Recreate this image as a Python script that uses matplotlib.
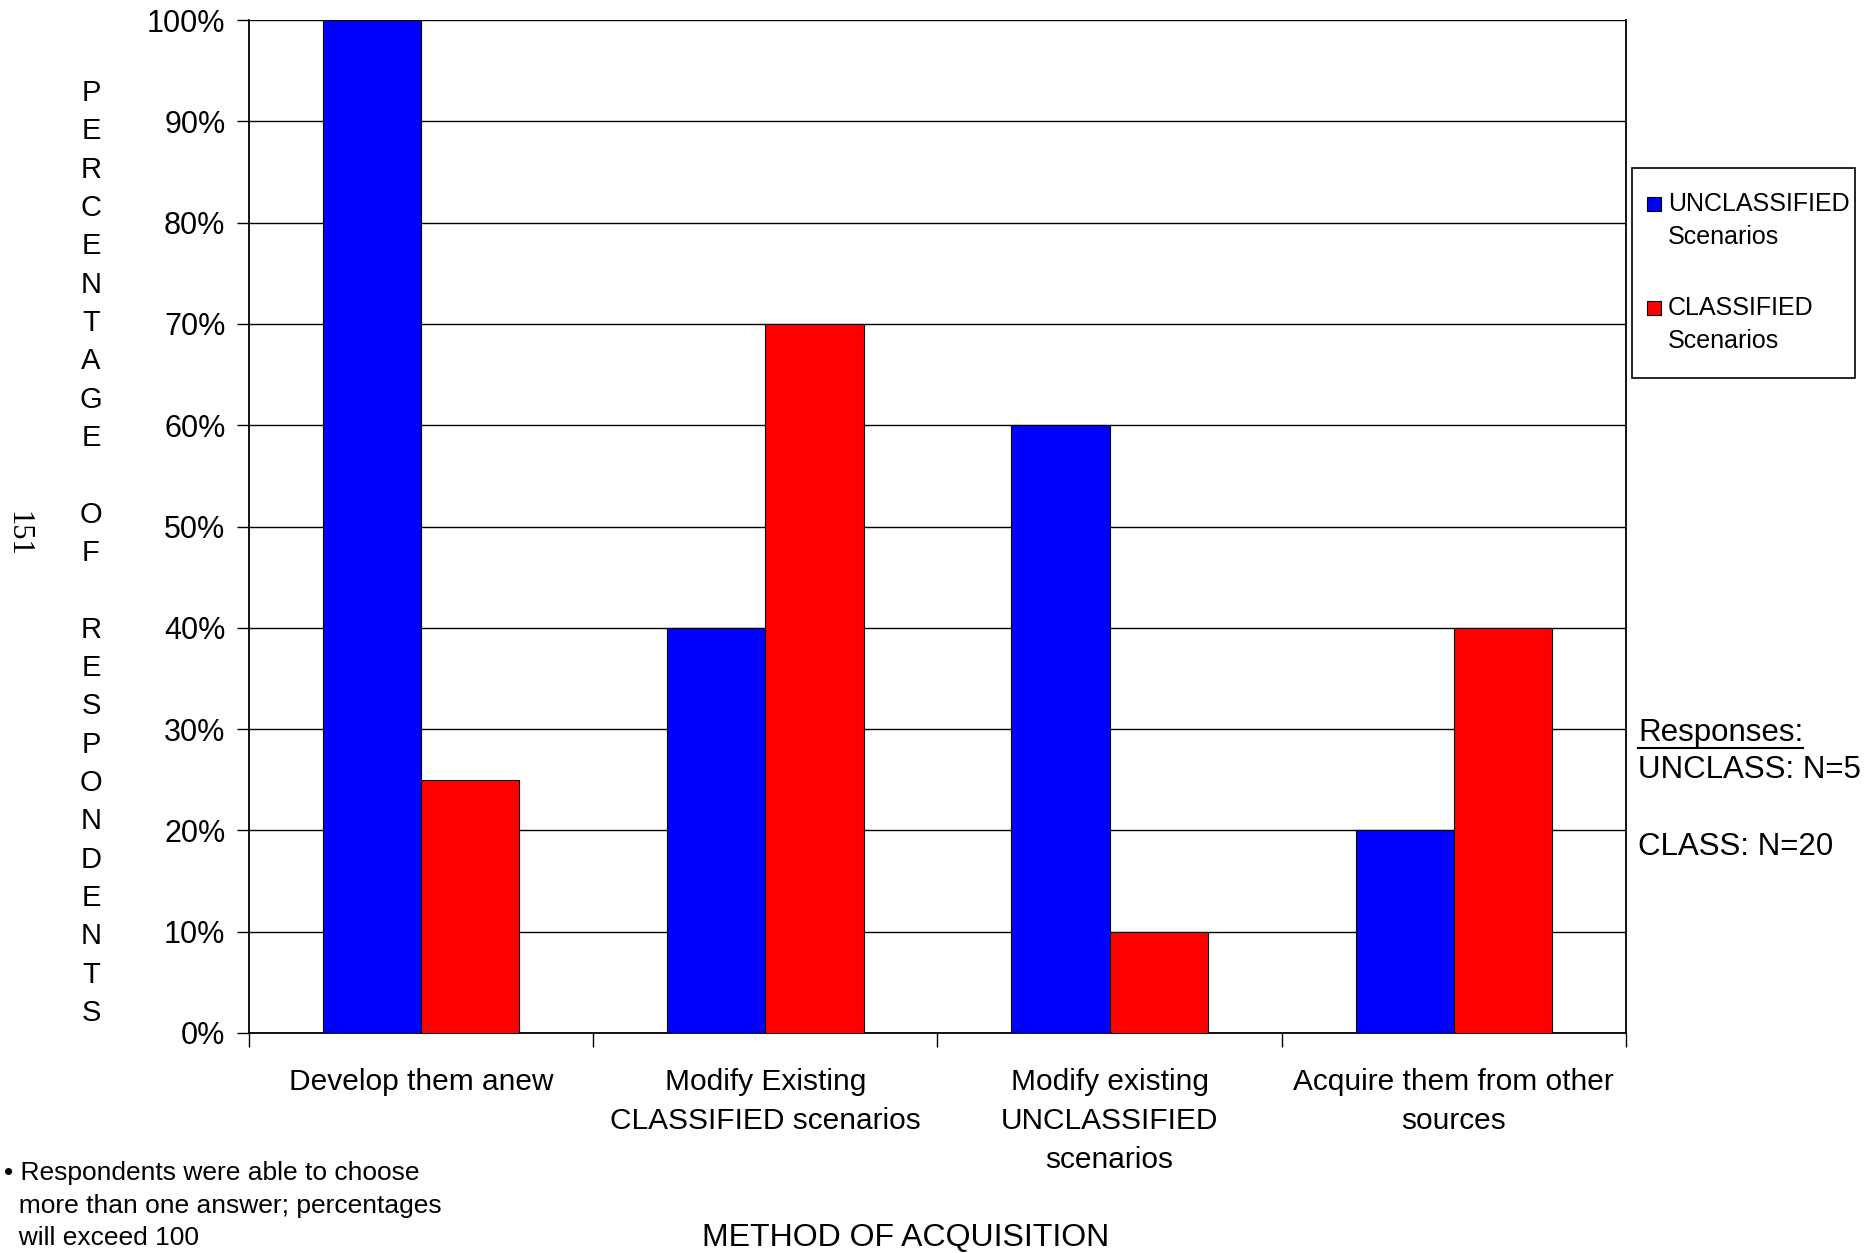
import matplotlib
matplotlib.use("Agg")
import matplotlib.pyplot as plt
from matplotlib.lines import Line2D
from matplotlib.patches import Rectangle
import numpy as np

plt.rcParams['font.family'] = ['Liberation Sans', 'DejaVu Sans']

categories = ["Develop them anew", "Modify Existing\nCLASSIFIED scenarios",
              "Modify existing\nUNCLASSIFIED\nscenarios", "Acquire them from other\nsources"]
unclassified = [100, 40, 60, 20]
classified = [25, 70, 10, 40]
series_names = ["UNCLASSIFIED\nScenarios", "CLASSIFIED\nScenarios"]
series_colors = ['#0000FF', '#FF0000']
yticks = [0, 10, 20, 30, 40, 50, 60, 70, 80, 90, 100]

W, H = 1874, 1253
fig = plt.figure(figsize=(W / 100, H / 100), dpi=100)
ax = fig.add_axes([249 / W, 1 - 1033 / H, (1626 - 249) / W, (1033 - 20) / H])

x = np.arange(len(categories))
bw = 1 / 3.5
ax.bar(x - bw / 2, unclassified, bw, color=series_colors[0], edgecolor='black', linewidth=0.8, zorder=3)
ax.bar(x + bw / 2, classified, bw, color=series_colors[1], edgecolor='black', linewidth=0.8, zorder=3)

ax.set_xlim(-0.5, len(categories) - 0.5)
ax.set_ylim(0, 100)
ax.set_yticks(yticks)
ax.set_yticklabels([f"{v}%" for v in yticks], fontsize=22)
ax.yaxis.grid(True, color='black', linewidth=1.0, zorder=0)
ax.set_axisbelow(True)
ax.tick_params(axis='y', direction='out', length=9, width=1.0, pad=8)

ax.set_xticks(np.arange(-0.5, len(categories), 1.0))
ax.set_xticklabels([])
ax.tick_params(axis='x', which='major', direction='out', length=10, width=1.0)
ax.set_xticks(x, minor=True)
ax.set_xticklabels(categories, minor=True, fontsize=21.5, linespacing=1.5)
ax.tick_params(axis='x', which='minor', length=0, pad=25)

for s in ['left', 'bottom', 'right']:
    ax.spines[s].set_color('black')
    ax.spines[s].set_linewidth(1.3)
ax.spines['top'].set_visible(False)

# vertical stacked y label
ylabel = "PERCENTAGE OF RESPONDENTS"
y0, step = 93, (1013 - 93) / 24
for i, ch in enumerate(ylabel):
    if ch != ' ':
        fig.text(91 / W, 1 - (y0 + i * step) / H, ch, fontsize=21, ha='center', va='center')

# page number
fig.text(18 / W, 1 - 534 / H, "151", fontsize=22, rotation=-90, ha='center', va='center',
         family=['Liberation Serif', 'DejaVu Serif'])

# x label
fig.text(906 / W, 1 - 1238 / H, "METHOD OF ACQUISITION", fontsize=23, ha='center', va='center')

# footnote
fig.text(4 / W, 1 - 1161 / H,
         "\u2022 Respondents were able to choose\n  more than one answer; percentages\n  will exceed 100",
         fontsize=19, ha='left', va='top', linespacing=1.45)

# manual legend
fig.add_artist(Rectangle((1632 / W, 1 - 378 / H), (1855 - 1632) / W, (378 - 168) / H,
                         transform=fig.transFigure, facecolor='white', edgecolor='black',
                         linewidth=1.2))
entry_y = [204, 308]
for name, col, ey in zip(series_names, series_colors, entry_y):
    fig.add_artist(Rectangle((1647 / W, 1 - (ey + 7) / H), 14 / W, 14 / H,
                             transform=fig.transFigure, facecolor=col, edgecolor='black',
                             linewidth=0.8))
    l1, l2 = name.split("\n")
    fig.text(1668 / W, 1 - ey / H, l1, fontsize=18, ha='left', va='center')
    fig.text(1668 / W, 1 - (ey + 33) / H, l2, fontsize=18, ha='left', va='center')

# responses annotation
rt = fig.text(1638 / W, 1 - 733 / H, "Responses:", fontsize=22.5, ha='left', va='center')
fig.text(1638 / W, 1 - 770 / H, "UNCLASS: N=5", fontsize=22.5, ha='left', va='center')
fig.text(1638 / W, 1 - 847 / H, "CLASS: N=20", fontsize=22.5, ha='left', va='center')
fig.canvas.draw()
bb = rt.get_window_extent()
uy = bb.y0
fig.add_artist(Line2D([bb.x0 / W, bb.x1 / W], [uy / H, uy / H], color='black', linewidth=1.5,
                      transform=fig.transFigure))

fig.savefig("out.png", dpi=100)
